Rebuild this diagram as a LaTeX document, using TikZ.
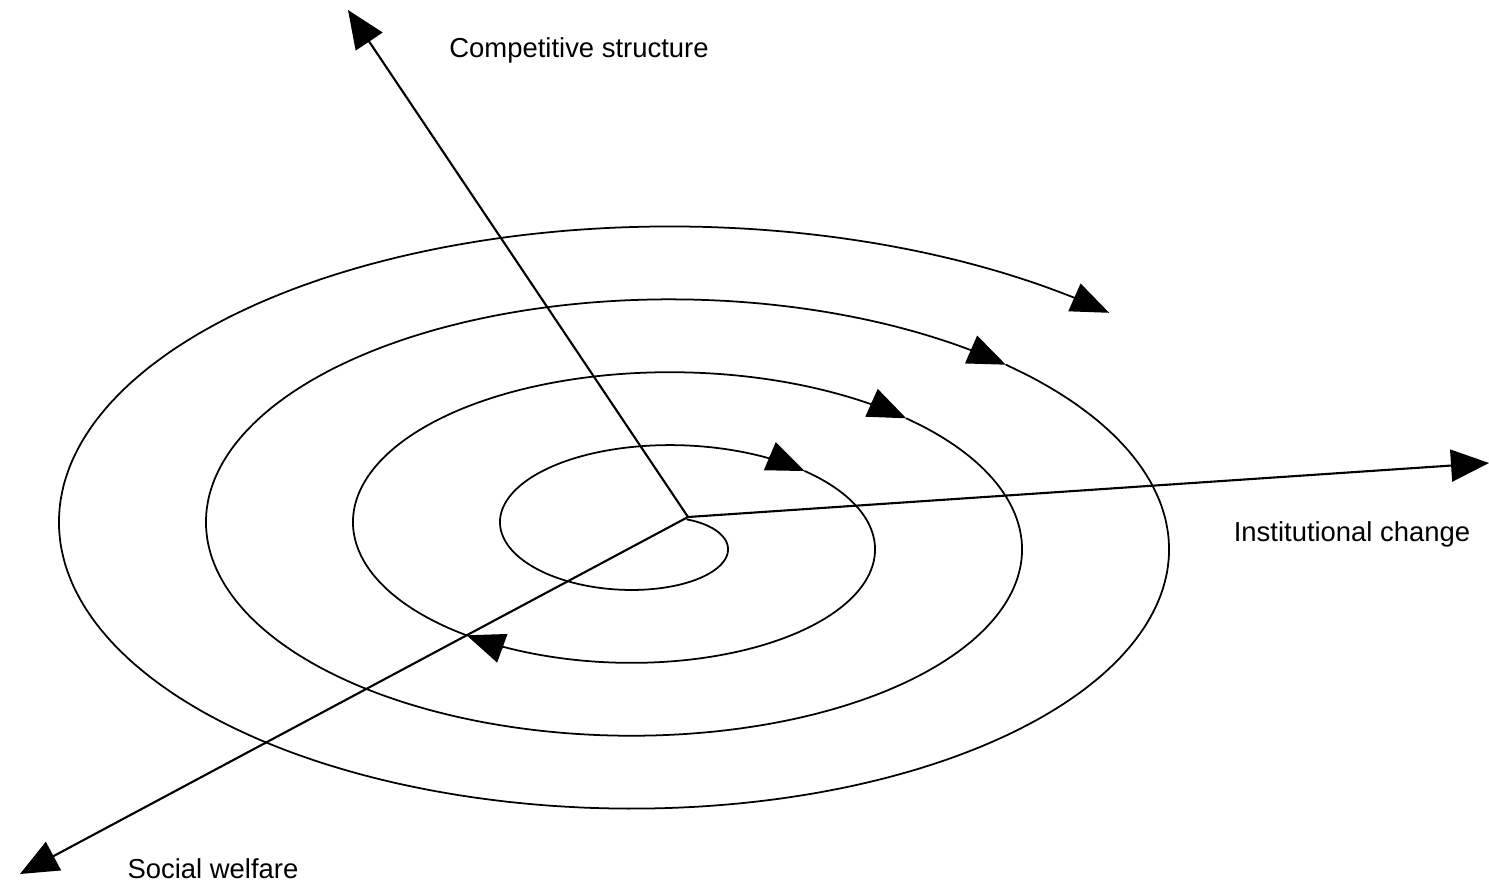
\documentclass[tikz,border=0pt]{standalone}
\usepackage{fontspec}
\setmainfont{Liberation Sans}
\usepackage{tikz}
\usetikzlibrary{arrows.meta,positioning}
\tikzset{
  axis/.style={line width=0.6pt, -{Triangle[length=3.8mm, width=3.2mm]}},
  spir/.style={line width=0.5pt, -{Triangle[length=3.8mm, width=3.0mm]}},
  lbl/.style={inner sep=0pt, font=\fontsize{7.8}{9}\selectfont},
  every picture/.style={line cap=round, line join=round}
}

\begin{document}
\begin{tikzpicture}[x=0.01cm, y=-0.01cm]
    \useasboundingbox (0,0) rectangle (1489,885);

    \coordinate (o) at (688,517);
    \coordinate (cs) at (348,10);
    \coordinate (ic) at (1489,463);
    \coordinate (sw) at (20,874);

    \draw[axis] (o) -- (cs);
    \draw[axis] (o) -- (ic);
    \draw[axis] (o) -- (sw);

    % spiral, cut where the arrow heads sit
    \foreach \a/\b in {-1.2/5.46, 5.46/8.51, 8.51/11.75, 11.75/18.03, 18.03/24.32}
    {
      \draw[spir] plot[domain=\a:\b, samples=90, smooth]
        ({650.75 + (77.25 + 23.4*\x)*cos(\x r) - 20*sin(\x r)},
         {535.75 + (36 + 11.6*\x)*sin(\x r) + 12*cos(\x r)});
    }

    \node[lbl] (cslbl) at (579,50) {Competitive structure};
    \node[lbl] (iclbl) at (1352,534) {Institutional change};
    \node[lbl] (swlbl) at (213,869) {Social welfare};
  \end{tikzpicture}
\end{document}
